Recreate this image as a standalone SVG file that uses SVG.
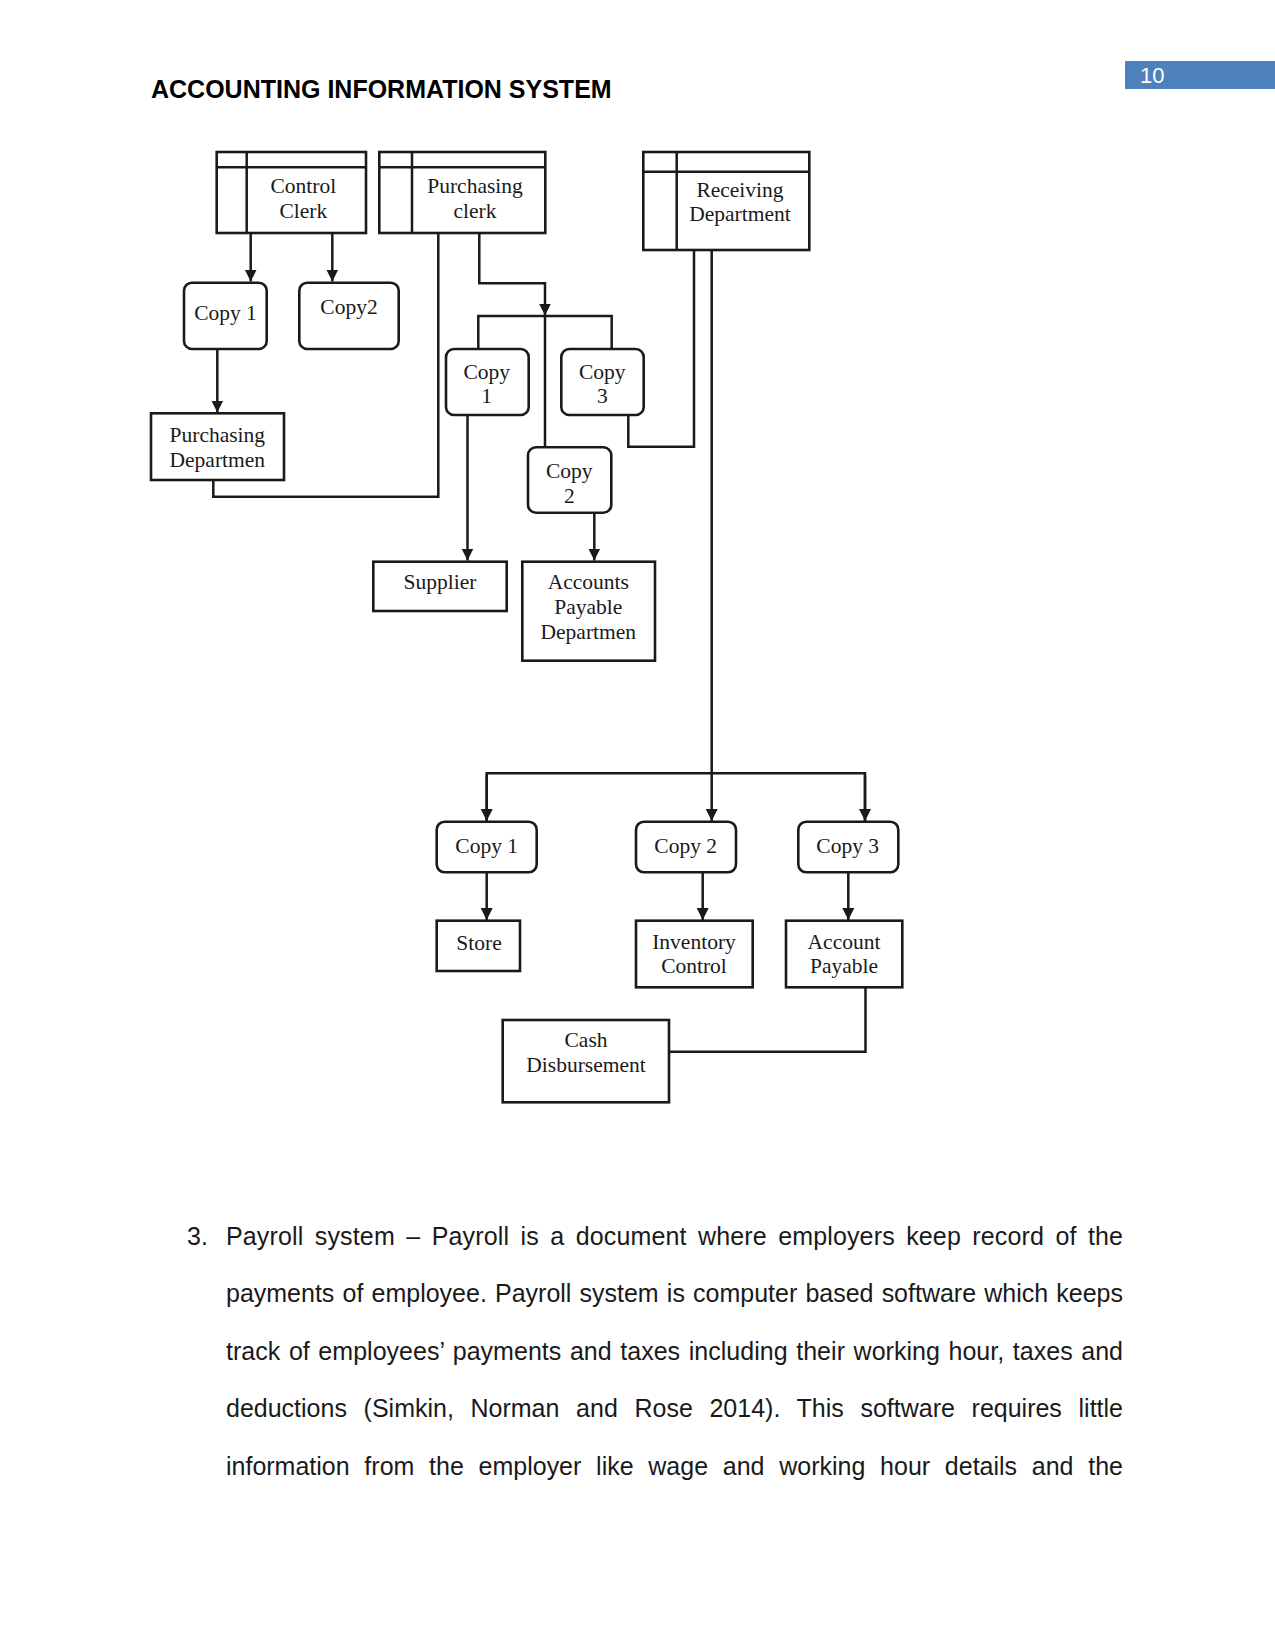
<svg xmlns="http://www.w3.org/2000/svg" width="1275" height="1650" viewBox="0 0 1275 1650">
<style>
.box{fill:#fff;stroke:#1a1a1a;stroke-width:2.6}
.ln{fill:none;stroke:#1a1a1a;stroke-width:2.5}
.lab{font-family:"Liberation Serif","Times New Roman",serif;font-size:21.5px;fill:#1a1a1a;text-anchor:middle}
.body{font-family:"Liberation Sans",Arial,sans-serif;font-size:25px;fill:#1a1a1a}
</style>
<defs>
<marker id="arr" markerUnits="userSpaceOnUse" markerWidth="13" markerHeight="13" viewBox="0 0 13 13" refX="12" refY="6.5" orient="auto">
<path d="M0 0.5 L12 6.5 L0 12.5 Z" fill="#1a1a1a"/>
</marker>
</defs>
<rect width="1275" height="1650" fill="#fff"/>
<g id="header">
<text x="151" y="98" font-family="Liberation Sans, Arial, sans-serif" font-weight="bold" font-size="25" fill="#000">ACCOUNTING INFORMATION SYSTEM</text>
<rect x="1125" y="61" width="150" height="28" fill="#4f81bd"/>
<text x="1140" y="83" font-family="Liberation Sans, Arial, sans-serif" font-size="22" fill="#fff">10</text>
</g>
<g id="connectors">
<path class="ln" d="M250.7 233 V281.5" marker-end="url(#arr)"/>
<path class="ln" d="M332.3 233 V281.5" marker-end="url(#arr)"/>
<path class="ln" d="M217.3 349 V412.5" marker-end="url(#arr)"/>
<path class="ln" d="M438.3 233 V496.7 H213.3 V480"/>
<path class="ln" d="M479.3 233 V283.3 H545 V315.5" marker-end="url(#arr)"/>
<path class="ln" d="M478.3 349 V316 H611.7 V349"/>
<path class="ln" d="M545 316 V447"/>
<path class="ln" d="M628.3 415 V446.7 H694 V250"/>
<path class="ln" d="M467.5 415 V560.5" marker-end="url(#arr)"/>
<path class="ln" d="M594.3 512.7 V560.5" marker-end="url(#arr)"/>
<path class="ln" d="M711.7 250 V821" marker-end="url(#arr)"/>
<path class="ln" d="M486.7 821 V773.3 H865 V821"/>
<path class="ln" d="M486.7 775 V821" marker-end="url(#arr)"/>
<path class="ln" d="M865 775 V821" marker-end="url(#arr)"/>
<path class="ln" d="M486.7 872.3 V920" marker-end="url(#arr)"/>
<path class="ln" d="M702.7 872.3 V920" marker-end="url(#arr)"/>
<path class="ln" d="M848.3 872.3 V920" marker-end="url(#arr)"/>
<path class="ln" d="M865.5 987.3 V1051.7 H669"/>
</g>
<g id="control-clerk">
<rect class="box" x="216.7" y="152" width="149.3" height="81"/>
<path class="ln" d="M216.7 167.3 H366 M246.7 152 V233"/>
<text class="lab" x="303.3" y="193">Control</text>
<text class="lab" x="303.3" y="217.5">Clerk</text>
</g>
<g id="purchasing-clerk">
<rect class="box" x="379.3" y="152" width="166" height="81"/>
<path class="ln" d="M379.3 167.3 H545.3 M412 152 V233"/>
<text class="lab" x="475" y="193">Purchasing</text>
<text class="lab" x="475" y="217.5">clerk</text>
</g>
<g id="receiving-department">
<rect class="box" x="643.3" y="152" width="166" height="98"/>
<path class="ln" d="M643.3 171.7 H809.3 M676.7 152 V250"/>
<text class="lab" x="740" y="196.7">Receiving</text>
<text class="lab" x="740" y="221">Department</text>
</g>
<g id="copy1-a">
<rect class="box" x="184" y="282.7" width="82.7" height="66.3" rx="8"/>
<text class="lab" x="225.5" y="320">Copy 1</text>
</g>
<g id="copy2-a">
<rect class="box" x="299.3" y="282.7" width="99.4" height="66.3" rx="8"/>
<text class="lab" x="349" y="314">Copy2</text>
</g>
<g id="purchasing-departmen">
<rect class="box" x="151" y="413.3" width="133" height="66.7"/>
<text class="lab" x="217.3" y="441.7">Purchasing</text>
<text class="lab" x="217.3" y="466.7">Departmen</text>
</g>
<g id="copy1-b">
<rect class="box" x="446" y="349" width="82.7" height="66" rx="8"/>
<text class="lab" x="486.7" y="379.3">Copy</text>
<text class="lab" x="486.7" y="403.3">1</text>
</g>
<g id="copy3-b">
<rect class="box" x="561.3" y="349" width="82.4" height="66" rx="8"/>
<text class="lab" x="602.3" y="379.3">Copy</text>
<text class="lab" x="602.3" y="403.3">3</text>
</g>
<g id="copy2-b">
<rect class="box" x="528" y="447.3" width="83.3" height="65.4" rx="8"/>
<text class="lab" x="569.3" y="478.3">Copy</text>
<text class="lab" x="569.3" y="502.7">2</text>
</g>
<g id="supplier">
<rect class="box" x="373.3" y="561.7" width="133.4" height="49.3"/>
<text class="lab" x="440" y="589">Supplier</text>
</g>
<g id="accounts-payable-departmen">
<rect class="box" x="522.3" y="561.7" width="132.7" height="99"/>
<text class="lab" x="588.3" y="589">Accounts</text>
<text class="lab" x="588.3" y="614">Payable</text>
<text class="lab" x="588.3" y="639">Departmen</text>
</g>
<g id="copy1-c">
<rect class="box" x="436.7" y="821.7" width="100" height="50.6" rx="8"/>
<text class="lab" x="486.7" y="853.3">Copy 1</text>
</g>
<g id="copy2-c">
<rect class="box" x="636" y="821.7" width="100" height="50.6" rx="8"/>
<text class="lab" x="685.7" y="853.3">Copy 2</text>
</g>
<g id="copy3-c">
<rect class="box" x="798.3" y="821.7" width="100" height="50.6" rx="8"/>
<text class="lab" x="847.7" y="853.3">Copy 3</text>
</g>
<g id="store">
<rect class="box" x="436.7" y="920.7" width="83.3" height="50.3"/>
<text class="lab" x="479" y="950">Store</text>
</g>
<g id="inventory-control">
<rect class="box" x="636" y="920.7" width="116.7" height="66.6"/>
<text class="lab" x="694" y="949.3">Inventory</text>
<text class="lab" x="694" y="973.3">Control</text>
</g>
<g id="account-payable">
<rect class="box" x="786" y="920.7" width="116.3" height="66.6"/>
<text class="lab" x="844" y="949.3">Account</text>
<text class="lab" x="844" y="973.3">Payable</text>
</g>
<g id="cash-disbursement">
<rect class="box" x="502.7" y="1020" width="166.3" height="82.3"/>
<text class="lab" x="586" y="1047.3">Cash</text>
<text class="lab" x="586" y="1071.7">Disbursement</text>
</g>
<g id="body-text" class="body">
<text x="187" y="1245">3.</text>
<text x="226" y="1245" word-spacing="4.3" textLength="897" lengthAdjust="spacing">Payroll system – Payroll is a document where employers keep record of the</text>
<text x="226" y="1302" word-spacing="1.2" textLength="897" lengthAdjust="spacing">payments of employee. Payroll system is computer based software which keeps</text>
<text x="226" y="1359.5" word-spacing="1.6" textLength="897" lengthAdjust="spacing">track of employees’ payments and taxes including their working hour, taxes and</text>
<text x="226" y="1417" word-spacing="9.7" textLength="897" lengthAdjust="spacing">deductions (Simkin, Norman and Rose 2014). This software requires little</text>
<text x="226" y="1475" word-spacing="7.8" textLength="897" lengthAdjust="spacing">information from the employer like wage and working hour details and the</text>
</g>
</svg>
